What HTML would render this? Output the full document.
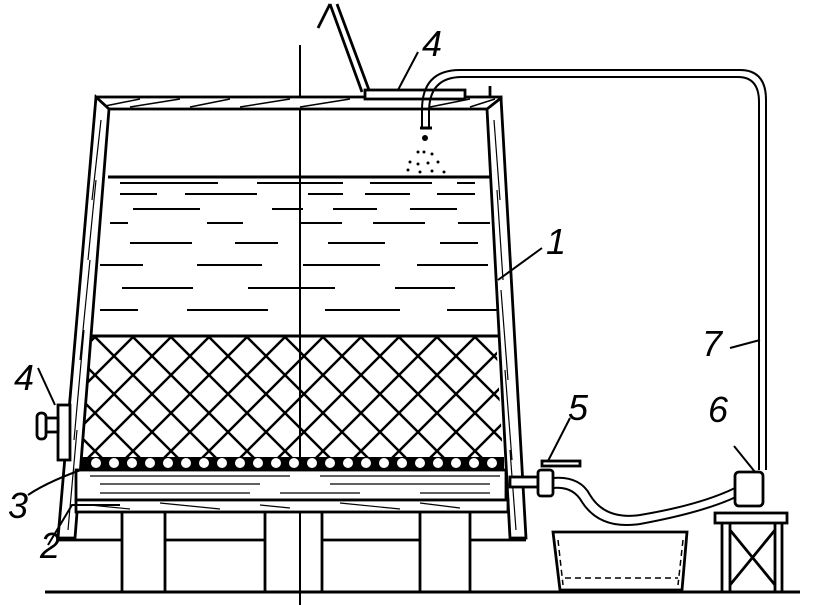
<!DOCTYPE html>
<html><head><meta charset="utf-8"><style>html,body{margin:0;padding:0;background:#fff}svg{display:block}</style></head><body>
<svg width="820" height="605" viewBox="0 0 820 605" xmlns="http://www.w3.org/2000/svg" font-family="Liberation Sans, sans-serif">
<defs>
<pattern id="xh" x="95" y="337" width="38" height="38" patternUnits="userSpaceOnUse">
<path d="M0,0 L38,38 M38,0 L0,38" stroke="#000" stroke-width="2.5"/>
</pattern>
<clipPath id="cc"><polygon points="92,337 496,337 503,458 82,458"/></clipPath>
</defs>
<g fill="none" stroke="#000" stroke-width="2.8">
<!-- ground -->
<line x1="45" y1="592" x2="800" y2="592" stroke-width="3"/>
<!-- center line -->
<line x1="300" y1="45" x2="300" y2="605" stroke-width="2"/>
<!-- lid -->
<rect x="96" y="97" width="405" height="12" fill="#fff"/>
<path d="M100,107 L140,99 M130,107 L180,99 M190,107 L230,99 M240,107 L290,99 M300,107 L350,99 M430,107 L470,99 M470,107 L495,99" stroke-width="1.5"/>
<rect x="365" y="90" width="100" height="9" fill="#fff"/>
<line x1="490" y1="86" x2="490" y2="97"/>
<!-- handle rod -->
<path d="M330,4 L362,92 M337,4 L369,90 M330,4 L318,28"/>
<!-- walls -->
<polygon points="96,97 109,109 75,538 58,538" fill="#fff"/>
<polygon points="501,98 487,109 510,538 526,538" fill="#fff"/>
<path d="M101,120 L92,200 M96,180 L88,260 M90,260 L80,360 M84,330 L74,440 M77,430 L68,530 M494,120 L500,200 M497,190 L503,280 M501,290 L508,380 M505,370 L512,460 M510,450 L516,530" stroke-width="1.2"/>
<!-- water -->
<line x1="108" y1="177" x2="490" y2="177" stroke-width="3"/>
<line x1="90" y1="336" x2="498" y2="336" stroke-width="3"/>
<g stroke-width="2">
<path d="M120,183h98M257,183h86M370,183h62M457,183h18"/>
<path d="M120,194h37M185,194h72M308,194h35M365,194h45M437,194h38"/>
<path d="M133,209h67M272,209h31M333,209h44M410,209h47"/>
<path d="M110,223h18M207,223h36M300,223h42M373,223h52M458,223h32"/>
<path d="M130,243h62M235,243h43M328,243h57M440,243h38"/>
<path d="M100,265h43M197,265h65M303,265h77M417,265h71"/>
<path d="M122,288h71M248,288h87M395,288h60"/>
<path d="M100,310h38M187,310h81M325,310h75M447,310h50"/>
</g>
<!-- crosshatch -->
<rect x="70" y="337" width="440" height="122" fill="url(#xh)" stroke="none" clip-path="url(#cc)"/>
<!-- circle band -->
<rect x="80" y="457" width="424" height="12" fill="#000" stroke="none"/>
<!-- plates -->
<rect x="76" y="470" width="430" height="30" fill="#fff"/>
<rect x="76" y="500" width="432" height="12" fill="#fff"/>
<path d="M90,476h200M320,476h180M100,484h60M150,484h110M330,484h100M430,484h60M100,493h150M280,493h80M420,493h70" stroke-width="1.2"/>
<path d="M90,505l40,4M160,503l60,6M260,505l30,3M340,503l60,6M420,503l40,5" stroke-width="1.2"/>
<!-- legs -->
<path d="M122,512V592M165,512V592M265,512V592M322,512V592M420,512V592M470,512V592M165,540H265M322,540H420M58,540H122M470,540H526"/>
<!-- left valve 4 -->
<rect x="58" y="405" width="12" height="55" fill="#fff"/>
<rect x="46" y="418" width="12" height="14" fill="#fff"/>
<rect x="37" y="413" width="9" height="26" rx="4" fill="#fff"/>
<line x1="38" y1="368" x2="55" y2="405" stroke-width="2"/>
<!-- leaders 3,2 -->
<path d="M28,495 Q50,480 95,465" stroke-width="2"/>
<path d="M48,545 L72,505 L120,505" stroke-width="2"/>
<!-- top pipe -->
<path d="M422,128 V110 Q422,70 460,70 H740 Q766,70 766,100 V470" stroke-width="2"/>
<path d="M429,128 V112 Q429,77 462,77 H738 Q759,77 759,102 V470" stroke-width="2"/>
<path d="M420,128h12" stroke-width="3"/>
<line x1="398" y1="90" x2="418" y2="52" stroke-width="2"/>
<!-- spray dots -->
<g fill="#000" stroke="none">
<circle cx="418" cy="152" r="1.5"/><circle cx="424" cy="152" r="1.5"/><circle cx="432" cy="154" r="1.5"/>
<circle cx="410" cy="162" r="1.5"/><circle cx="418" cy="164" r="1.5"/><circle cx="428" cy="163" r="1.5"/><circle cx="438" cy="162" r="1.5"/>
<circle cx="408" cy="170" r="1.5"/><circle cx="420" cy="172" r="1.5"/><circle cx="432" cy="171" r="1.5"/><circle cx="444" cy="172" r="1.5"/>
<circle cx="425" cy="138" r="3"/>
</g>
<!-- valve 5 -->
<rect x="510" y="477" width="28" height="10" fill="#fff"/>
<rect x="538" y="470" width="15" height="26" rx="3" fill="#fff"/>
<rect x="542" y="461" width="38" height="5" fill="#fff"/>
<line x1="548" y1="461" x2="570" y2="418" stroke-width="2"/>
<!-- hose -->
<path d="M553,478 Q580,476 590,495 Q605,520 640,515 Q700,505 735,488 Q748,483 752,490" stroke-width="2"/>
<path d="M553,488 Q573,486 582,502 Q600,530 640,524 Q705,512 738,496 Q748,493 752,500" stroke-width="2"/>
<!-- pump -->
<rect x="735" y="472" width="28" height="34" rx="4" fill="#fff"/>
<line x1="734" y1="446" x2="755" y2="472" stroke-width="2"/>
<!-- pump stand -->
<rect x="715" y="513" width="72" height="10" fill="#fff"/>
<path d="M722,523 V592 M782,523 V592 M730,523 V592 M775,523 V592 M730,530 L775,585 M775,530 L730,585"/>
<!-- basin -->
<path d="M553,532 H687 L682,590 H560 Z" fill="#fff"/>
<path d="M558,540 L563,585 M683,540 L678,585 M565,578 H678" stroke-width="1.5" stroke-dasharray="6 4"/>
<!-- leaders 1,7 -->
<line x1="498" y1="280" x2="542" y2="248" stroke-width="2"/>
<line x1="730" y1="348" x2="760" y2="340" stroke-width="2"/>
</g>
<g fill="#fff">
<circle cx="96" cy="463" r="5"/><circle cx="114" cy="463" r="5"/><circle cx="132" cy="463" r="5"/><circle cx="150" cy="463" r="5"/><circle cx="168" cy="463" r="5"/><circle cx="186" cy="463" r="5"/><circle cx="204" cy="463" r="5"/><circle cx="222" cy="463" r="5"/><circle cx="240" cy="463" r="5"/><circle cx="258" cy="463" r="5"/><circle cx="276" cy="463" r="5"/><circle cx="294" cy="463" r="5"/><circle cx="312" cy="463" r="5"/><circle cx="330" cy="463" r="5"/><circle cx="348" cy="463" r="5"/><circle cx="366" cy="463" r="5"/><circle cx="384" cy="463" r="5"/><circle cx="402" cy="463" r="5"/><circle cx="420" cy="463" r="5"/><circle cx="438" cy="463" r="5"/><circle cx="456" cy="463" r="5"/><circle cx="474" cy="463" r="5"/><circle cx="492" cy="463" r="5"/>
</g>
<g fill="#000" font-size="36" font-style="italic">
<text x="422" y="56">4</text>
<text x="14" y="390">4</text>
<text x="546" y="254">1</text>
<text x="702" y="356">7</text>
<text x="568" y="420">5</text>
<text x="708" y="422">6</text>
<text x="8" y="518">3</text>
<text x="40" y="558">2</text>
</g>
</svg>
</body></html>
